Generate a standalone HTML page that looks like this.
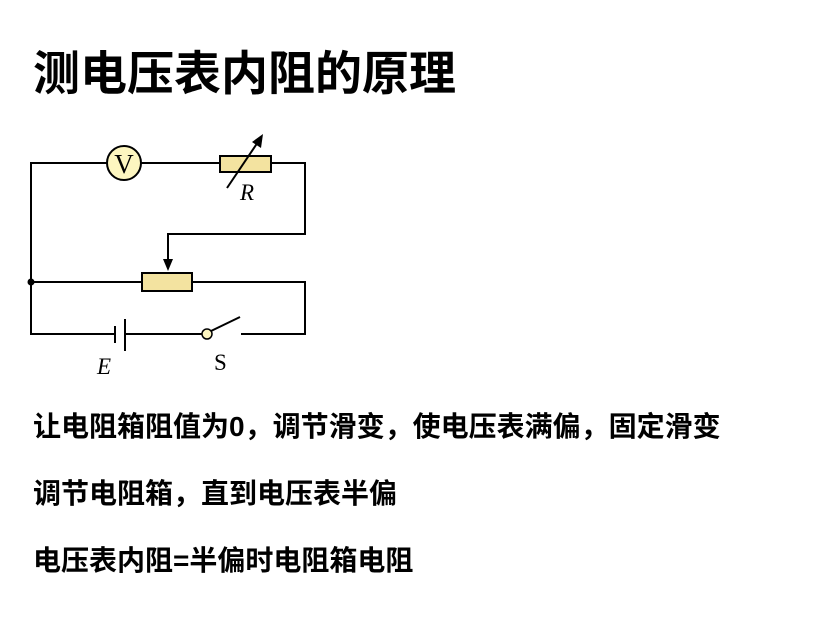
<!DOCTYPE html>
<html><head><meta charset="utf-8"><style>
body{margin:0;width:837px;height:623px;background:#fff;position:relative;overflow:hidden;font-family:"Liberation Sans","Noto Sans CJK SC",sans-serif}
.t{position:absolute;left:33px;top:35px;font-size:47px;font-weight:bold;color:#000;white-space:nowrap}
.l{position:absolute;left:33px;font-size:28px;font-weight:bold;color:#000;white-space:nowrap}
svg{position:absolute;left:0;top:0}
</style></head><body>
<div class="t">测电压表内阻的原理</div>
<svg width="837" height="623">
<g stroke="#000" stroke-width="2" fill="none">
<polyline points="107,163 31,163 31,334 115,334"/>
<line x1="141" y1="163" x2="220" y2="163"/>
<polyline points="271,163 305,163 305,234 168,234 168,262"/>
<line x1="31" y1="282" x2="142" y2="282"/>
<polyline points="192,282 305,282 305,334 241,334"/>
<line x1="125" y1="334" x2="202" y2="334"/>
<line x1="115" y1="326" x2="115" y2="343"/>
<line x1="125" y1="319" x2="125" y2="351"/>
<line x1="211" y1="331" x2="240" y2="317"/>
</g>
<polygon points="168,271 163,259 173,259" fill="#000"/>
<circle cx="124" cy="163" r="17" fill="#fdf6c0" stroke="#000" stroke-width="2"/>
<text x="124" y="173" font-family="Liberation Serif" font-size="27" text-anchor="middle">V</text>
<rect x="220" y="156" width="51" height="16" fill="#f3e3a0" stroke="#000" stroke-width="2"/>
<line x1="227" y1="188" x2="258" y2="142" stroke="#000" stroke-width="2"/>
<polygon points="263,134 261,148 252,142" fill="#000"/>
<text x="240" y="200" font-family="Liberation Serif" font-style="italic" font-size="23">R</text>
<rect x="142" y="273" width="50" height="18" fill="#f3e3a0" stroke="#000" stroke-width="2"/>
<circle cx="31" cy="282" r="3.5" fill="#000"/>
<circle cx="207" cy="334" r="5" fill="#fdf6c0" stroke="#000" stroke-width="1.5"/>
<text x="97" y="374" font-family="Liberation Serif" font-style="italic" font-size="23">E</text>
<text x="214" y="370" font-family="Liberation Serif" font-size="23">S</text>
</svg>
<div class="l" style="top:405px">让电阻箱阻值为0，调节滑变，使电压表满偏，固定滑变</div>
<div class="l" style="top:472px">调节电阻箱，直到电压表半偏</div>
<div class="l" style="top:539px">电压表内阻=半偏时电阻箱电阻</div>
</body></html>
